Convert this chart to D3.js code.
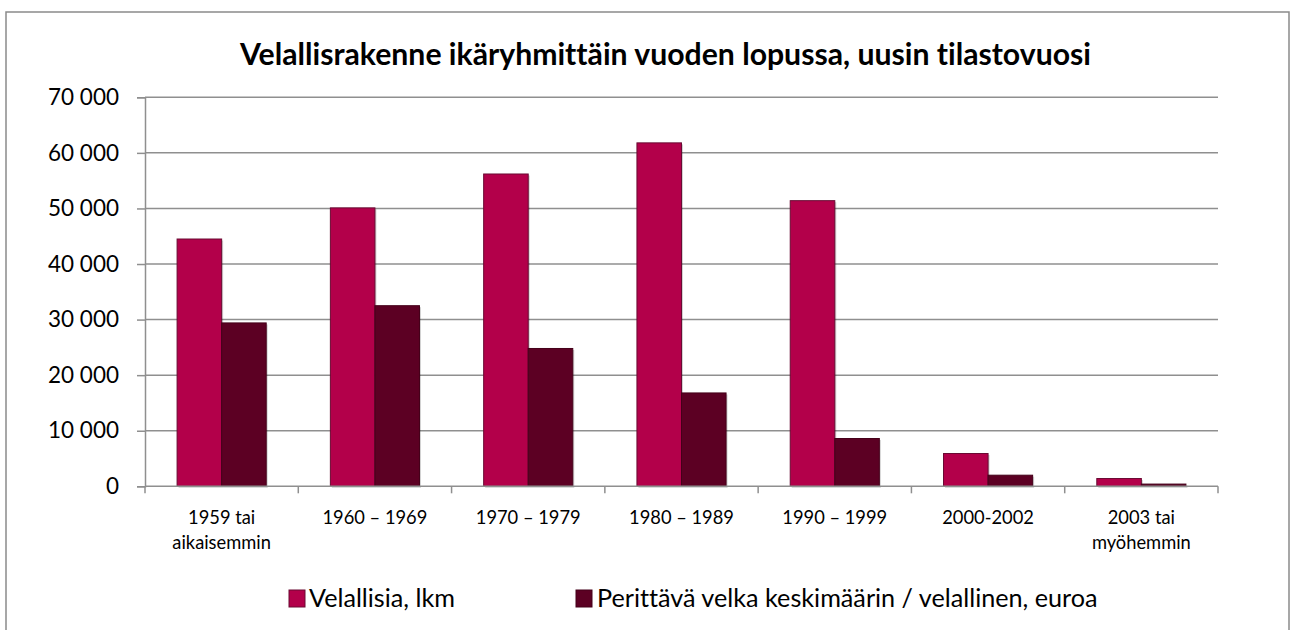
<!DOCTYPE html>
<html><head><meta charset="utf-8">
<script src="https://cdn.jsdelivr.net/npm/d3@7"></script>
<style>html,body{margin:0;padding:0;background:#fff;} svg{display:block;} text{font-variant-ligatures:none;font-feature-settings:"liga" 0;}</style>
</head><body>
<svg id="chart" width="1292" height="630"></svg>
<script>
// ---- data ----
const chartTitle = "Velallisrakenne ikäryhmittäin vuoden lopussa, uusin tilastovuosi";
const categories = ["1959 tai\naikaisemmin", "1960 – 1969", "1970 – 1979", "1980 – 1989", "1990 – 1999", "2000-2002", "2003 tai\nmyöhemmin"];
const seriesNames = ["Velallisia, lkm", "Perittävä velka keskimäärin / velallinen, euroa"];
const velallisia = [44500, 50100, 56200, 61800, 51400, 5900, 1400];
const perittavaVelka = [29400, 32500, 24800, 16800, 8600, 2000, 400];
const yTicks = [0, 10000, 20000, 30000, 40000, 50000, 60000, 70000];

// ---- layout / style ----
const FONT = "Lato, 'Open Sans', sans-serif";
const colors = ["#b3004a", "#5c0023"];
const strokes = ["#6a0a33", "#45001a"];
const gridColor = "#8f8f8f";
const plot = {left: 145, right: 1218, top: 97.3, bottom: 486.3};

const svg = d3.select("#chart");
const W = 1292, H = 630;

// outer border
svg.append("rect").attr("x", 6).attr("y", 12).attr("width", 1283).attr("height", H)
  .attr("fill", "#fff").attr("stroke", "#8a8a8a").attr("stroke-width", 1.5);

const x0 = d3.scaleBand().domain(categories).range([plot.left, plot.right]).paddingInner(0).paddingOuter(0);
const x1 = d3.scaleBand().domain([0, 1]).range([0, x0.bandwidth()]).paddingInner(0).paddingOuter(0.72);
const y = d3.scaleLinear().domain([0, 70000]).range([plot.bottom, plot.top]);

const locale = d3.formatLocale({decimal: ",", thousands: " ", grouping: [3], currency: ["", " €"]});
const fmt = locale.format(",d");

// gridlines
svg.append("g").selectAll("line").data(yTicks.filter(d => d > 0)).join("line")
  .attr("x1", plot.left).attr("x2", plot.right)
  .attr("y1", d => y(d)).attr("y2", d => y(d))
  .attr("stroke", gridColor).attr("stroke-width", 1.5);

// bars
const rows = categories.map((c, i) => ({cat: c, vals: [velallisia[i], perittavaVelka[i]]}));
const groups = svg.append("g").selectAll("g").data(rows).join("g")
  .attr("transform", d => `translate(${x0(d.cat)},0)`);
const bars = d => d.vals.map((v, k) => ({v, k}));
// soft shadow
groups.selectAll("rect.sh").data(bars).join("rect").attr("class", "sh")
  .attr("x", d => x1(d.k) + 1.5).attr("width", x1.bandwidth())
  .attr("y", d => y(d.v) + 1.5).attr("height", d => y(0) - y(d.v))
  .attr("fill", "#000").attr("opacity", 0.18);
groups.selectAll("rect.bar").data(bars).join("rect").attr("class", "bar")
  .attr("x", d => x1(d.k)).attr("width", x1.bandwidth())
  .attr("y", d => y(d.v)).attr("height", d => y(0) - y(d.v))
  .attr("fill", d => colors[d.k]).attr("stroke", d => strokes[d.k]).attr("stroke-width", 1);

// y axis
const yAxis = d3.axisLeft(y).tickValues(yTicks).tickFormat(fmt).tickSize(8).tickPadding(18);
const gy = svg.append("g").attr("transform", `translate(${plot.left},0)`).call(yAxis);
gy.select(".domain").attr("stroke", gridColor).attr("stroke-width", 1.5);
gy.selectAll(".tick line").attr("stroke", gridColor).attr("stroke-width", 1.5);
gy.selectAll(".tick text").attr("font-family", FONT).attr("font-size", 20).attr("fill", "#000");

// x axis
const gx = svg.append("g").attr("transform", `translate(0,${plot.bottom})`);
gx.append("line").attr("x1", plot.left).attr("x2", plot.right).attr("stroke", gridColor).attr("stroke-width", 1.5);
const bounds = categories.map(c => x0(c)).concat([plot.right]);
gx.selectAll("line.tk").data(bounds).join("line").attr("class", "tk")
  .attr("x1", d => d).attr("x2", d => d).attr("y1", 0).attr("y2", 7)
  .attr("stroke", gridColor).attr("stroke-width", 1.5);
const xl = gx.selectAll("text").data(categories).join("text")
  .attr("x", d => x0(d) + x0.bandwidth() / 2).attr("y", 38)
  .attr("text-anchor", "middle").attr("font-family", FONT).attr("font-size", 16).attr("fill", "#000");
xl.each(function(d) {
  const t = d3.select(this);
  d.split("\n").forEach((line, i) => {
    t.append("tspan").attr("x", x0(d) + x0.bandwidth() / 2).attr("dy", i === 0 ? 0 : 25).text(line);
  });
});

// title
const tt = svg.append("text").attr("x", 665.5).attr("y", 65).attr("text-anchor", "middle")
  .attr("font-family", FONT).attr("font-weight", "bold").attr("font-size", 26).attr("fill", "#000")
  .text(chartTitle);

// legend
const legendX = [[289, 309], [576, 597]];
const lg = svg.append("g").selectAll("g").data(seriesNames).join("g");
lg.append("rect").attr("x", (d, i) => legendX[i][0]).attr("y", 590).attr("width", 16).attr("height", 17)
  .attr("fill", (d, i) => colors[i]).attr("stroke", (d, i) => strokes[i]).attr("stroke-width", 1);
const lt = lg.append("text").attr("x", (d, i) => legendX[i][1]).attr("y", 607)
  .attr("font-family", FONT).attr("font-size", 22).attr("fill", "#000").text(d => d);

// fit font sizes to the reference text widths
function fit(sel, refNode, target) {
  const k = target / refNode.getComputedTextLength();
  sel.attr("font-size", function() { return parseFloat(d3.select(this).attr("font-size")) * k; });
}
fit(tt, tt.node(), 851);
const yText = gy.selectAll(".tick text");
fit(yText, yText.nodes()[yText.size() - 1], 71);
fit(xl, xl.nodes()[1], 105);
fit(lt, lt.nodes()[0], 146);
</script>
</body></html>
